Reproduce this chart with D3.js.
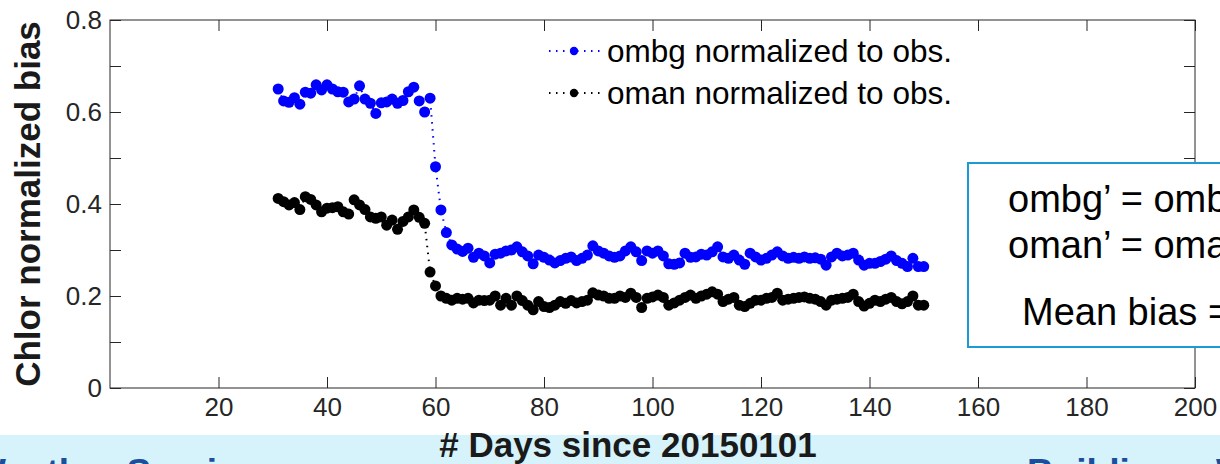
<!DOCTYPE html>
<html><head><meta charset="utf-8">
<script src="https://cdn.jsdelivr.net/npm/d3@7"></script>
<style>
html,body{margin:0;padding:0;background:#fff;overflow:hidden;}
svg{display:block;font-family:"Liberation Sans",Arial,Helvetica,sans-serif;}
</style></head>
<body>
<svg id="chart" width="1220" height="464"></svg>
<script>
const days = [31,32,33,34,35,36,37,38,39,40,41,42,43,44,45,46,47,48,49,50,
  51,52,53,54,55,56,57,58,59,60,61,62,63,64,65,66,67,68,69,70,
  71,72,73,74,75,76,77,78,79,80,81,82,83,84,85,86,87,88,89,90,
  91,92,93,94,95,96,97,98,99,100,101,102,103,104,105,106,107,108,109,110,
  111,112,113,114,115,116,117,118,119,120,121,122,123,124,125,126,127,128,129,130,
  131,132,133,134,135,136,137,138,139,140,141,142,143,144,145,146,147,148,149,150];

const ombg = [0.650,0.624,0.621,0.631,0.617,0.643,0.641,0.659,0.648,0.659,
  0.650,0.644,0.643,0.622,0.628,0.657,0.628,0.619,0.597,0.620,
  0.622,0.628,0.619,0.625,0.644,0.654,0.624,0.600,0.630,0.481,
  0.387,0.338,0.311,0.302,0.297,0.304,0.284,0.293,0.287,0.272,
  0.291,0.293,0.298,0.300,0.307,0.296,0.287,0.270,0.289,0.284,
  0.278,0.272,0.277,0.282,0.285,0.277,0.282,0.289,0.309,0.298,
  0.293,0.287,0.284,0.287,0.298,0.307,0.296,0.277,0.298,0.293,
  0.298,0.287,0.270,0.269,0.272,0.293,0.284,0.285,0.291,0.289,
  0.296,0.307,0.285,0.282,0.289,0.278,0.269,0.293,0.285,0.278,
  0.282,0.289,0.296,0.287,0.282,0.284,0.282,0.285,0.282,0.283,
  0.280,0.267,0.285,0.293,0.287,0.289,0.293,0.278,0.267,0.271,
  0.271,0.275,0.280,0.287,0.277,0.271,0.264,0.282,0.264,0.264];

const oman = [0.412,0.405,0.398,0.403,0.388,0.416,0.410,0.398,0.383,0.391,
  0.392,0.394,0.383,0.378,0.409,0.398,0.388,0.372,0.369,0.372,
  0.354,0.365,0.345,0.362,0.372,0.387,0.371,0.358,0.252,0.222,
  0.200,0.195,0.191,0.195,0.193,0.195,0.185,0.191,0.190,0.191,
  0.200,0.180,0.195,0.180,0.200,0.190,0.180,0.170,0.188,0.177,
  0.175,0.180,0.188,0.184,0.190,0.185,0.188,0.191,0.207,0.202,
  0.200,0.195,0.195,0.200,0.197,0.206,0.197,0.175,0.195,0.198,
  0.202,0.197,0.180,0.185,0.191,0.197,0.202,0.195,0.200,0.204,
  0.209,0.204,0.188,0.193,0.197,0.180,0.177,0.184,0.191,0.191,
  0.195,0.197,0.206,0.191,0.193,0.195,0.197,0.198,0.195,0.193,
  0.188,0.180,0.191,0.193,0.195,0.197,0.204,0.188,0.178,0.184,
  0.191,0.188,0.193,0.197,0.188,0.183,0.188,0.200,0.180,0.180];

const xTicks = [20,40,60,80,100,120,140,160,180,200];
const yTicks = [0,0.1,0.2,0.3,0.4,0.5,0.6,0.7,0.8];
const yLabelTicks = [0,0.2,0.4,0.6,0.8];
const seriesNames = ["ombg normalized to obs.","oman normalized to obs."];
const seriesColors = ["#0000ff","#000000"];
const boxLines = ["ombg\u2019 = ombg / obs","oman\u2019 = oman / obs","Mean bias = "];
const xTitle = "# Days since 20150101";
const yTitle = "Chlor normalized bias";
const footerLeft = "Weather Services";
const footerRight = "Building a Weather-Ready Nation";

const svg = d3.select("#chart");
const L = 110, R = 1195, T = 20, B = 388;
const x = d3.scaleLinear().domain([0,200]).range([L,R]);
const y = d3.scaleLinear().domain([0,0.8]).range([B,T]);
const axisColor = "#262626";

// footer banner
svg.append("rect").attr("x",0).attr("y",435).attr("width",1220).attr("height",29).attr("fill","#d6f3fc");
svg.append("text").attr("x",-29).attr("y",485).attr("font-size",37).attr("font-weight","bold")
  .attr("fill","#1b4f9c").text(footerLeft);
svg.append("text").attr("x",1027).attr("y",485).attr("font-size",37).attr("font-weight","bold")
  .attr("fill","#1b4f9c").text(footerRight);

// axes
function styleAxis(g){
  g.select(".domain").remove();
  g.selectAll(".tick line").attr("stroke",axisColor).attr("stroke-width",1);
  g.selectAll(".tick text").attr("fill",axisColor).attr("font-size",26)
    .attr("font-family","'Liberation Sans',Arial,sans-serif");
}
svg.append("g").attr("transform",`translate(0,${B})`)
  .call(d3.axisBottom(x).tickValues(xTicks).tickSizeInner(-11).tickSizeOuter(0).tickPadding(10))
  .call(styleAxis);
svg.append("g").attr("transform",`translate(0,${T})`)
  .call(d3.axisTop(x).tickValues(xTicks).tickSizeInner(-11).tickSizeOuter(0).tickFormat(""))
  .call(styleAxis);
svg.append("g").attr("transform",`translate(${L},0)`)
  .call(d3.axisLeft(y).tickValues(yTicks).tickSizeInner(-11).tickSizeOuter(0).tickPadding(8)
    .tickFormat(d => yLabelTicks.some(v => Math.abs(v-d)<1e-9) ? (d===0?"0":d3.format(".1f")(d)) : ""))
  .call(styleAxis);
svg.append("g").attr("transform",`translate(${R},0)`)
  .call(d3.axisRight(y).tickValues(yTicks).tickSizeInner(-11).tickSizeOuter(0).tickFormat(""))
  .call(styleAxis);
svg.append("rect").attr("x",L).attr("y",T).attr("width",R-L).attr("height",B-T)
  .attr("fill","none").attr("stroke",axisColor).attr("stroke-width",1);

// titles
svg.append("text").attr("x",628).attr("y",457).attr("text-anchor","middle")
  .attr("font-size",35).attr("font-weight","bold").attr("fill","#1a1a1a").text(xTitle);
svg.append("text").attr("transform",`translate(40,${(T+B)/2}) rotate(-90)`).attr("text-anchor","middle")
  .attr("font-size",35).attr("font-weight","bold").attr("fill","#1a1a1a").text(yTitle);

// series
const line = d3.line().x((d,i)=>x(days[i])).y(d=>y(d));
[ombg, oman].forEach((vals, k) => {
  const g = svg.append("g");
  g.append("path").datum(vals).attr("d",line).attr("fill","none")
    .attr("stroke",seriesColors[k]).attr("stroke-width",2).attr("stroke-dasharray","1.5,5.5");
  g.selectAll("circle").data(vals).join("circle")
    .attr("cx",(d,i)=>x(days[i])).attr("cy",d=>y(d)).attr("r",5.5).attr("fill",seriesColors[k]);
});

// legend
seriesNames.forEach((name,k) => {
  const ly = 51 + k*42;
  svg.append("line").attr("x1",549).attr("x2",600).attr("y1",ly).attr("y2",ly)
    .attr("stroke",seriesColors[k]).attr("stroke-width",2).attr("stroke-dasharray","1.5,5.5");
  svg.append("circle").attr("cx",574).attr("cy",ly).attr("r",4.2).attr("fill",seriesColors[k]);
  svg.append("text").attr("x",607).attr("y",ly+11).attr("font-size",31.5).attr("fill","#000").text(name);
});

// annotation box
svg.append("rect").attr("x",968).attr("y",163).attr("width",300).attr("height",184)
  .attr("fill","#fff").attr("stroke","#1a9bd7").attr("stroke-width",2);
const boxX = [1008,1008,1022], boxY = [212,258,325];
boxLines.forEach((t,i)=>{
  svg.append("text").attr("x",boxX[i]).attr("y",boxY[i]).attr("font-size",38).attr("fill","#000").text(t);
});
</script>
</body></html>
